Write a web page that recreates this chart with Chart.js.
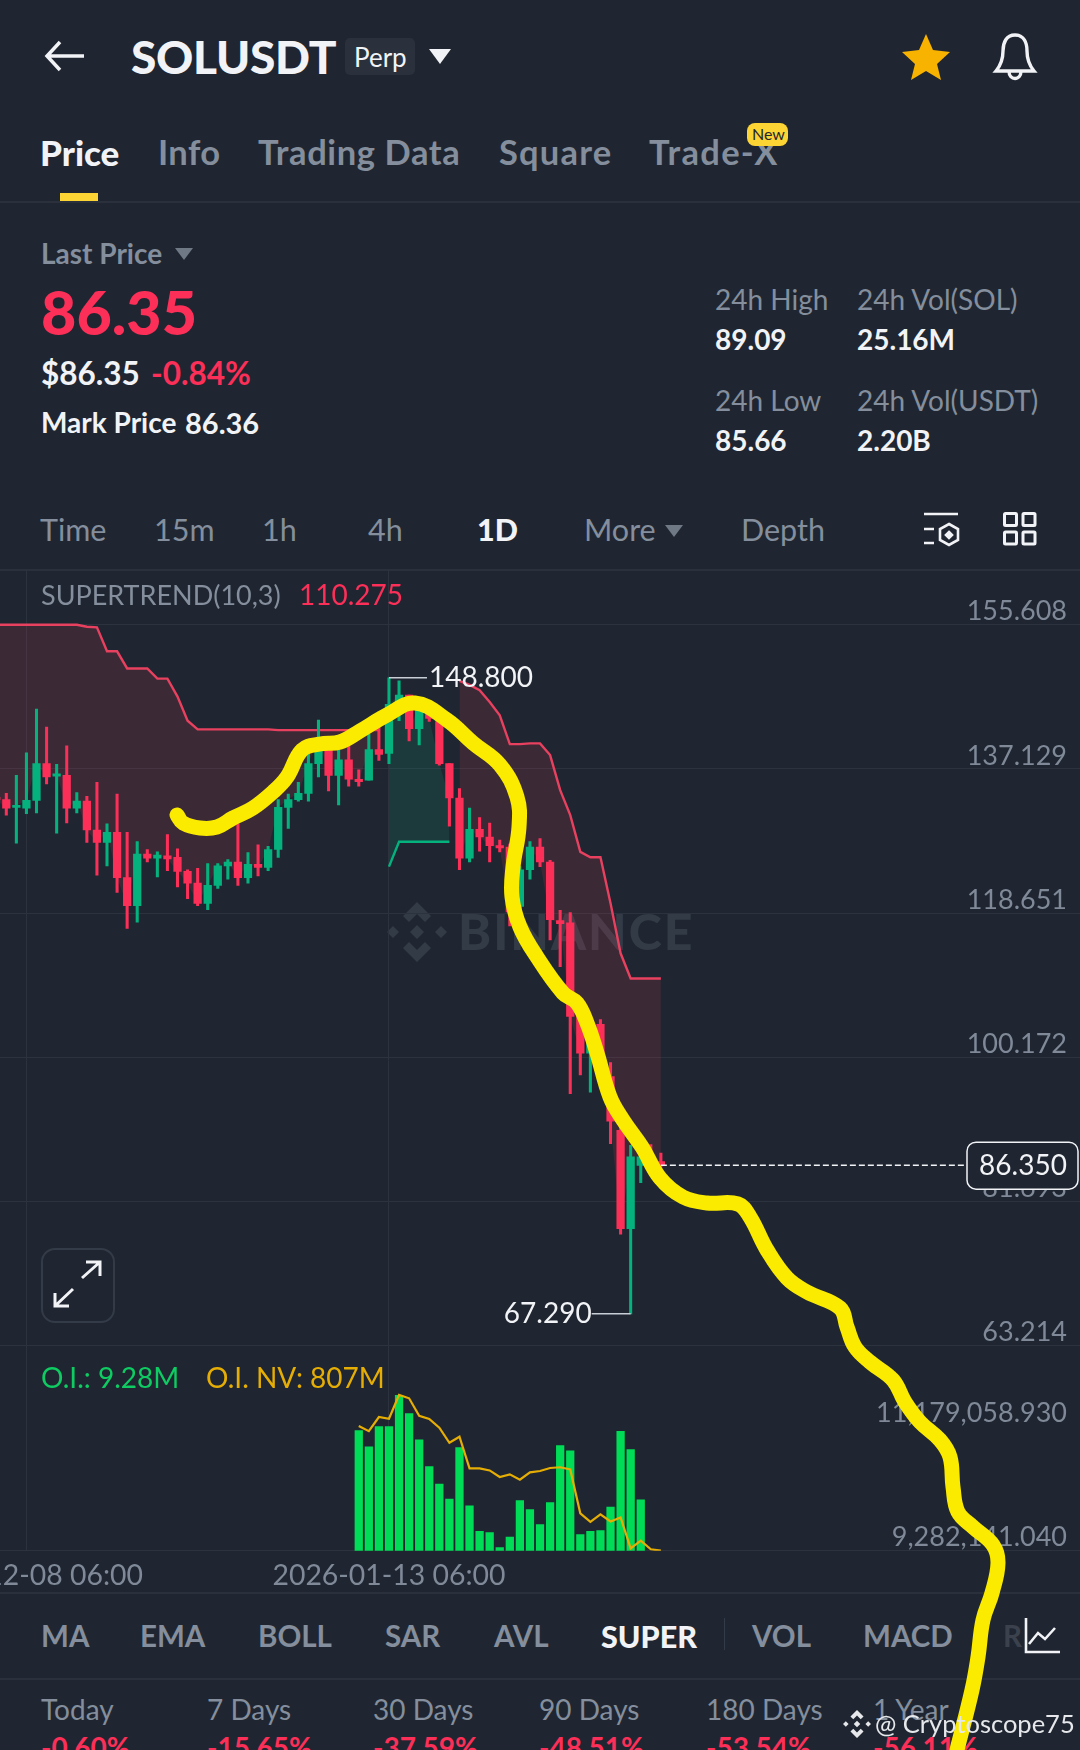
<!DOCTYPE html>
<html>
<head>
<meta charset="utf-8">
<title>SOLUSDT Perp</title>
<script src="https://cdn.jsdelivr.net/npm/chart.js@4"></script>
<style>
  html, body { margin: 0; padding: 0; background: #1f2631; }
  #page { position: relative; width: 1080px; height: 1750px; overflow: hidden; background: #1f2631; font-family: Lato, sans-serif; }
  .t { position: absolute; transform: translateY(-50%); white-space: nowrap; line-height: 1; color: #848e9c; font-size: 30px; font-weight: 700; }
  .w { color: #f1f3f6; }
  .r { color: #fb2f58; }
  .s { font-size: 28px; font-weight: 400; }
  .hr { position: absolute; left: 0; width: 1080px; height: 2px; background: #2a313d; }
  svg.i { position: absolute; overflow: visible; }
  canvas { position: absolute; left: 0; display: block; }
  #chart { top: 570px; z-index: 2; }
  #pen { top: 0; z-index: 3; }
  #mark { position: absolute; z-index: 4; left: 0; top: 0; }
</style>
</head>
<body>
<div id="page">
  <!-- header -->
  <svg class="i" style="left:44px;top:40px" width="40" height="32" fill="none" stroke="#f1f3f6" stroke-width="3.5"><path d="M40 16H3M16 2L3 16l13 14"/></svg>
  <span class="t w" style="left:131px;top:57px;font-size:46px;font-weight:900;letter-spacing:-.3px">SOLUSDT</span>
  <div style="position:absolute;left:345px;top:38px;width:70px;height:37px;border-radius:5px;background:#2a303c"></div>
  <span class="t w" style="left:354px;top:57px;font-size:26px;font-weight:400">Perp</span>
  <svg class="i" style="left:429px;top:49px" width="22" height="15"><path d="M0 0h22L11 15z" fill="#f1f3f6"/></svg>
  <svg class="i" style="left:902px;top:34px" width="48" height="46"><path d="M24 0l7 16 17 2-13 12 4 16-15-9-15 9 4-16L0 18l17-2z" fill="#f8b200"/></svg>
  <svg class="i" style="left:994px;top:33px" width="42" height="48" fill="none" stroke="#f1f3f6" stroke-width="3.4"><path d="M21 2c9 0 12 8 12 16 0 9 2 14 7 20H2c5-6 7-11 7-20C9 10 12 2 21 2z"/><path d="M15 38c0 10 12 10 12 0"/></svg>

  <!-- tabs -->
  <span class="t w" style="left:40px;top:152px;font-size:35px;font-weight:900">Price</span>
  <span class="t" style="left:158px;top:152px;font-size:34.5px;letter-spacing:.4px">Info</span>
  <span class="t" style="left:258px;top:152px;font-size:34.5px;letter-spacing:.6px">Trading Data</span>
  <span class="t" style="left:499px;top:152px;font-size:34.5px;letter-spacing:1.2px">Square</span>
  <span class="t" style="left:649px;top:152px;font-size:34.5px;letter-spacing:1.3px">Trade-X</span>
  <div style="position:absolute;left:747px;top:123px;width:41px;height:23px;border-radius:8px;background:#fcd535"></div>
  <span class="t" style="left:752px;top:134px;font-size:16px;color:#1f2631;font-weight:400">New</span>
  <div style="position:absolute;left:60px;top:193px;width:38px;height:8px;background:#fcd535"></div>
  <div class="hr" style="top:201px"></div>

  <!-- price block -->
  <span class="t" style="left:41px;top:253px;font-size:28px">Last Price</span>
  <svg class="i" style="left:175px;top:248px" width="18" height="12"><path d="M0 0h18L9 12z" fill="#6f7885"/></svg>
  <span class="t r" style="left:41px;top:311px;font-size:61px;font-weight:900">86.35</span>
  <span class="t w" style="left:41px;top:374px;font-size:31.5px">$86.35</span>
  <span class="t r" style="left:151px;top:374px;font-size:31.5px">-0.84%</span>
  <span class="t w" style="left:41px;top:422px;font-size:28px">Mark Price</span>
  <span class="t w" style="left:185px;top:422px;font-size:29px">86.36</span>

  <span class="t s" style="left:715px;top:299px">24h High</span>
  <span class="t s" style="left:857px;top:299px">24h Vol(SOL)</span>
  <span class="t s w" style="left:715px;top:339px;font-weight:700">89.09</span>
  <span class="t s w" style="left:857px;top:339px;font-weight:700">25.16M</span>
  <span class="t s" style="left:715px;top:400px">24h Low</span>
  <span class="t s" style="left:857px;top:400px">24h Vol(USDT)</span>
  <span class="t s w" style="left:715px;top:440px;font-weight:700">85.66</span>
  <span class="t s w" style="left:857px;top:440px;font-weight:700">2.20B</span>

  <!-- intervals -->
  <span class="t" style="left:40px;top:529px;font-size:30.5px;font-weight:400">Time</span>
  <span class="t" style="left:154px;top:529px;font-size:30.5px;font-weight:400">15m</span>
  <span class="t" style="left:262px;top:529px;font-size:30.5px;font-weight:400">1h</span>
  <span class="t" style="left:368px;top:529px;font-size:30.5px;font-weight:400">4h</span>
  <span class="t w" style="left:477px;top:529px;font-size:30.5px;font-weight:900">1D</span>
  <span class="t" style="left:584px;top:529px;font-size:30.5px;font-weight:400">More</span>
  <svg class="i" style="left:665px;top:525px" width="18" height="12"><path d="M0 0h18L9 12z" fill="#6f7885"/></svg>
  <span class="t" style="left:741px;top:529px;font-size:30.5px;font-weight:400">Depth</span>
  <svg class="i" style="left:923px;top:513px" width="36" height="36" fill="none" stroke="#f1f3f6" stroke-width="2.6"><path d="M1 1h34M1 16h10M1 30h10M26 11l9 5v11l-9 5-9-5V16z"/><path d="M26 19l3 3-3 3-3-3z" fill="#f1f3f6"/></svg>
  <svg class="i" style="left:1003px;top:512px" width="34" height="35" fill="none" stroke="#f1f3f6" stroke-width="3"><rect x="1.5" y="1.5" width="12" height="12" rx="1"/><rect x="20" y="1.5" width="12" height="12" rx="1"/><rect x="1.5" y="20" width="12" height="12" rx="1"/><rect x="20" y="20" width="12" height="12" rx="1"/></svg>
  <div class="hr" style="top:569px"></div>

  <!-- chart overlays -->
  <span class="t s" style="left:41px;top:594px;z-index:5;font-size:27px">SUPERTREND(10,3)</span>
  <span class="t s r" style="left:299px;top:594px;z-index:5">110.275</span>
  <svg class="i" style="left:387px;top:902px" width="60" height="60" viewBox="-30 -30 60 60" fill="#333b47"><path d="M0-30l14 14-6 6-8-8-8 8-6-6zM0 30l14-14-6-6-8 8-8-8-6 6zM-30 0l6-6 6 6-6 6zM30 0l-6-6-6 6 6 6zM0-7l7 7-7 7-7-7z"/></svg>
  <span class="t" style="left:458px;top:931px;font-size:50px;font-weight:900;color:#333b47;letter-spacing:2px">BINANCE</span>
  <div style="position:absolute;left:41px;top:1248px;width:70px;height:71px;border:2px solid #343b48;border-radius:14px;z-index:5"></div>
  <svg class="i" style="left:52px;top:1260px;z-index:5" width="50" height="50" fill="none" stroke="#f1f3f6" stroke-width="3"><path d="M30 18L48 2M34 2h14v14M21 29L3 46M3 33v13h14"/></svg>
  <span class="t s" style="left:41px;top:1377px;color:#0ecb62;z-index:5">O.I.: 9.28M</span>
  <span class="t s" style="left:206px;top:1377px;color:#e6ae05;z-index:5">O.I. NV: 807M</span>

  <!-- indicators -->
  <div class="hr" style="top:1592px"></div>
  <span class="t" style="left:41px;top:1636px;font-size:29.5px">MA</span>
  <span class="t" style="left:140px;top:1636px;font-size:29.5px">EMA</span>
  <span class="t" style="left:258px;top:1636px;font-size:29.5px">BOLL</span>
  <span class="t" style="left:385px;top:1636px;font-size:29.5px">SAR</span>
  <span class="t" style="left:494px;top:1636px;font-size:29.5px">AVL</span>
  <span class="t w" style="left:601px;top:1636px;font-size:30.5px;font-weight:900">SUPER</span>
  <div style="position:absolute;left:724px;top:1618px;width:1px;height:32px;background:#343b48"></div>
  <span class="t" style="left:752px;top:1636px;font-size:29.5px">VOL</span>
  <span class="t" style="left:863px;top:1636px;font-size:29.5px">MACD</span>
  <span class="t" style="left:1003px;top:1636px;font-size:29.5px;color:#3b424e">R</span>
  <svg class="i" style="left:1024px;top:1618px" width="36" height="36" fill="none" stroke="#f1f3f6" stroke-width="2.6"><path d="M2 0v34h34M5 26l9-11 7 6 10-11"/></svg>
  <div class="hr" style="top:1678px"></div>

  <!-- period returns -->
  <span class="t s" style="left:41px;top:1709px">Today</span>
  <span class="t s" style="left:207px;top:1709px">7 Days</span>
  <span class="t s" style="left:373px;top:1709px">30 Days</span>
  <span class="t s" style="left:539px;top:1709px">90 Days</span>
  <span class="t s" style="left:706px;top:1709px">180 Days</span>
  <span class="t s" style="left:873px;top:1709px">1 Year</span>
  <span class="t s r" style="left:41px;top:1747px;font-weight:700">-0.60%</span>
  <span class="t s r" style="left:207px;top:1747px;font-weight:700">-15.65%</span>
  <span class="t s r" style="left:373px;top:1747px;font-weight:700">-37.59%</span>
  <span class="t s r" style="left:539px;top:1747px;font-weight:700">-48.51%</span>
  <span class="t s r" style="left:706px;top:1747px;font-weight:700">-53.54%</span>
  <span class="t s r" style="left:873px;top:1747px;font-weight:700">-56.11%</span>

  <canvas id="chart" width="1080" height="1050"></canvas>
  <canvas id="pen" width="1080" height="1750"></canvas>

  <!-- watermark on top of everything -->
  <div id="mark">
    <svg class="i" style="left:843px;top:1710px" width="28" height="28" viewBox="-30 -30 60 60" fill="#e6e8eb"><path d="M0-30l14 14-6 6-8-8-8 8-6-6zM0 30l14-14-6-6-8 8-8-8-6 6zM-30 0l6-6 6 6-6 6zM30 0l-6-6-6 6 6 6zM0-7l7 7-7 7-7-7z"/></svg>
    <span class="t" style="left:875px;top:1724px;font-size:25.5px;font-weight:400;color:#e6e8eb">@ Cryptoscope75</span>
  </div>
</div>

<script>
// ── Candles: one entry per day, 2025-12-05 first, 2026-02-09 last ──
const opens = [133.5,
  133.2,132.2,132.1,133.1,137.8,136.2,136.3,132.1,133.0,129.3,
  127.7,129.0,123.2,119.6,126.2,125.7,126.0,125.8,124.0,122.5,
  119.9,122.2,124.7,125.2,123.2,124.9,124.5,126.8,132.2,133.2,
  134.0,137.8,140.8,136.3,138.3,135.8,135.7,139.6,139.1,145.4,
  146.6,142.3,144.2,143.2,137.8,133.4,125.7,129.4,128.4,127.3,
  127.1,119.5,124.2,127.1,125.2,117.7,117.4,105.4,100.7,104.4,
  97.7,90.8,78.2,86.3,87.4,86.8];
const closes = [133.2,
  132.1,132.4,133.1,137.8,136.1,136.5,132.1,133.0,129.3,127.7,
  129.0,123.2,119.6,126.2,125.7,126.1,125.6,124.0,122.5,119.9,
  122.2,124.7,125.2,123.2,124.9,124.5,126.8,132.2,133.2,134.0,
  137.8,141.0,136.3,138.3,135.8,135.5,139.6,139.0,145.4,146.6,
  142.3,145.1,143.6,137.8,133.4,125.7,129.4,128.4,127.3,127.0,
  118.8,124.2,127.1,125.2,117.8,117.3,105.4,100.7,104.4,99.4,
  92.0,78.2,87.4,87.4,86.8,86.35];
const highs = [137.0,
  134.0,136.3,139.2,144.8,142.5,137.7,140.1,134.1,133.6,135.4,
  130.1,133.9,129.0,127.8,126.8,126.5,128.7,126.9,124.2,124.4,
  125.0,125.0,125.5,130.1,126.4,127.4,127.2,133.2,133.9,135.4,
  139.5,143.4,141.3,140.0,141.0,137.0,141.6,144.4,148.8,148.4,
  146.6,145.5,145.5,144.0,137.8,134.6,132.1,130.9,130.2,128.0,
  127.5,124.6,127.8,128.2,125.4,119.0,118.7,105.6,104.7,105.0,
  99.5,92.1,88.9,87.8,89.0,87.9];
const lows = [132.5,
  131.2,127.6,131.4,131.5,135.2,128.9,130.2,131.5,127.7,123.5,
  124.7,121.3,116.7,117.5,125.2,123.3,124.1,122.0,120.5,119.6,
  119.1,121.8,123.0,122.2,122.5,123.4,124.1,125.8,129.5,133.0,
  133.0,136.1,134.3,132.5,134.9,134.9,135.7,138.2,137.8,143.3,
  140.7,140.2,143.2,137.6,129.8,124.2,125.2,126.6,125.2,126.5,
  117.0,118.6,123.0,124.6,115.2,111.8,95.5,97.9,95.7,98.0,
  89.1,77.5,67.29,84.1,85.7,86.1];

// ── Supertrend, split into its down and up runs ──
const trendDown = [155.6,
  155.6,155.6,155.6,155.6,155.6,155.6,155.6,155.6,155.35,155.27,
  152.2,152.2,150.0,150.0,150.0,148.7,148.7,146.4,143.3,142.2,
  142.2,142.2,142.2,142.2,142.2,142.2,142.2,142.1,142.1,142.1,
  142.1,142.1,142.1,142.1,142.1,142.1,142.1,142.1,null,null,
  null,null,null,null,null,148.4,147.9,147.2,145.7,144.0,
  140.3,140.3,140.4,140.4,138.9,134.4,131.2,126.5,125.8,125.8,
  119.9,113.5,110.275,110.275,110.275,110.275];
const trendUp = [null,
  null,null,null,null,null,null,null,null,null,null,
  null,null,null,null,null,null,null,null,null,null,
  null,null,null,null,null,null,null,null,null,null,
  null,null,null,null,null,null,null,null,124.6,127.8,
  127.8,127.8,127.8,127.8,127.8];

// ── Open interest, from the 36th day on ──
const oiStart = 36;
const oiBars = [11120000,10870000,11180000,11180000,11660000,11380000,10980000,10570000,10300000,10070000,
  10860000,9970000,9580000,9560000,9330000,9490000,10050000,9910000,9680000,10020000,
  10890000,10810000,9530000,9580000,9590000,9950000,11110000,10830000,10060000];
const oiNotional = [1514,1485,1565,1555,1690,1671,1572,1554,1504,1419,
  1453,1274,1274,1262,1225,1240,1210,1251,1259,1276,
  1280,1268,1019,971,1013,973,996,820,864,815,807];

// ── Axis ticks ──
const priceTicks = [155.608, 137.129, 118.651, 100.172, 81.693, 63.214];
const oiTicks = [11179058.93, 9282141.04];
const dateTicks = [3, 39];
const dateLabels = ['2025-12-08 06:00', '2026-01-13 06:00'];

// ── Price markers ──
const highMark = { day: 39, value: 148.8, label: '148.800' };
const lowMark = { day: 63, value: 67.29, label: '67.290' };
const lastPrice = 86.35;

// ── Hand drawn stroke on the screenshot, in page pixels ──
const penX = [177,183,200,217,233,253,273,287,302,320,340,360,387,415,447,473,500,517,519,513,512,520,537,563,577,587,597,610,623,642,660,683,707,738,750,767,787,807,840,847,855,870,893,905,920,940,950,953,958,973,993,998,992,983,978,972,957];
const penY = [815,823,828,827,818,808,792,777,750,744,742,731,715,703,720,743,765,797,827,867,897,927,957,993,1003,1023,1053,1097,1120,1147,1178,1197,1203,1204,1217,1250,1278,1292,1308,1327,1347,1362,1380,1402,1422,1440,1457,1487,1512,1527,1545,1563,1593,1620,1657,1690,1750];

const colors = {
  up: '#05b27e',
  down: '#fb2f58',
  trendDown: '#e8405f',
  trendUp: '#05b27e',
  fillDown: 'rgba(255, 60, 90, 0.13)',
  fillUp: 'rgba(5, 190, 140, 0.13)',
  oiBar: '#00dc55',
  oiLine: '#e6ae05',
  grid: '#2c333f',
  tick: '#7f8998',
  text: '#f1f3f6',
};

const tickFont = { family: 'Lato, sans-serif', size: 27 };
const dateFont = { family: 'Lato, sans-serif', size: 28.4 };
const days = opens.map((_, i) => i);
const isUp = (i) => closes[i] >= opens[i];

// Draws the high/low call-outs and the last price flag
const priceMarks = {
  id: 'priceMarks',
  afterDraw(chart) {
    const { ctx, scales: { x, y } } = chart;
    ctx.save();
    ctx.font = '28px Lato, sans-serif';
    ctx.textBaseline = 'middle';
    ctx.strokeStyle = '#c9ced6';
    ctx.lineWidth = 1.5;
    ctx.fillStyle = colors.text;

    const hx = x.getPixelForValue(highMark.day);
    const hy = y.getPixelForValue(highMark.value);
    ctx.beginPath(); ctx.moveTo(hx, hy); ctx.lineTo(hx + 38, hy); ctx.stroke();
    ctx.textAlign = 'left';
    ctx.fillText(highMark.label, hx + 40, hy);

    const lx = x.getPixelForValue(lowMark.day);
    const ly = y.getPixelForValue(lowMark.value);
    ctx.beginPath(); ctx.moveTo(lx, ly); ctx.lineTo(lx - 39, ly); ctx.stroke();
    ctx.textAlign = 'right';
    ctx.fillText(lowMark.label, lx - 39, ly);

    const py = y.getPixelForValue(lastPrice);
    ctx.setLineDash([6, 3]);
    ctx.strokeStyle = colors.text;
    ctx.beginPath(); ctx.moveTo(x.getPixelForValue(days.length - 1), py); ctx.lineTo(966, py); ctx.stroke();
    ctx.setLineDash([]);
    ctx.beginPath(); ctx.roundRect(967, py - 23, 111, 47, 9);
    ctx.fillStyle = '#1f2631'; ctx.fill(); ctx.stroke();
    ctx.fillStyle = colors.text;
    ctx.textAlign = 'center';
    ctx.fillText(lastPrice.toFixed(3), 1023, py + 1);
    ctx.restore();
  },
};

new Chart(document.getElementById('chart'), {
  data: {
    datasets: [
      {
        type: 'bar', label: 'Body', order: 1, grouped: false, barThickness: 7.6, minBarLength: 2,
        data: days.map((i) => ({ x: i, y: [opens[i], closes[i]] })),
        backgroundColor: days.map((i) => (isUp(i) ? colors.up : colors.down)),
      },
      {
        type: 'bar', label: 'Wick', order: 2, grouped: false, barThickness: 2.4,
        data: days.map((i) => ({ x: i, y: [lows[i], highs[i]] })),
        backgroundColor: days.map((i) => (isUp(i) ? colors.up : colors.down)),
      },
      {
        type: 'line', label: 'Supertrend down', order: 3, borderWidth: 2.4, pointRadius: 0,
        borderColor: colors.trendDown, spanGaps: false,
        data: trendDown.map((v, i) => ({ x: i, y: v })),
        fill: { target: 4, above: colors.fillDown, below: colors.fillDown },
      },
      {
        type: 'line', label: 'Supertrend up', order: 3, borderWidth: 2.4, pointRadius: 0,
        borderColor: colors.trendUp, spanGaps: false,
        data: trendUp.map((v, i) => ({ x: i, y: v })),
        fill: { target: 4, above: colors.fillUp, below: colors.fillUp },
      },
      {
        type: 'line', label: 'Close', order: 4, borderWidth: 0, pointRadius: 0, borderColor: 'transparent',
        data: closes.map((v, i) => ({ x: i, y: v })),
      },
      {
        type: 'bar', label: 'O.I.', order: 2, grouped: false, barThickness: 7.6, yAxisID: 'yOI',
        backgroundColor: colors.oiBar,
        data: oiBars.map((v, i) => ({ x: oiStart + i, y: v })),
      },
      {
        type: 'line', label: 'O.I. NV', order: 1, borderWidth: 2.2, pointRadius: 0, yAxisID: 'yNV',
        borderColor: colors.oiLine,
        data: oiNotional.map((v, i) => ({ x: oiStart + i, y: v })),
      },
    ],
  },
  options: {
    responsive: false,
    animation: false,
    events: [],
    layout: { padding: 0 },
    plugins: { legend: { display: false }, tooltip: { enabled: false } },
    scales: {
      x: {
        type: 'linear', min: 0.374, max: 107.62, offset: false,
        border: { display: false },
        grid: { color: colors.grid, drawTicks: false, offset: false },
        afterBuildTicks: (axis) => { axis.ticks = dateTicks.map((v) => ({ value: v })); },
        afterFit: (axis) => { axis.paddingLeft = 0; axis.paddingRight = 0; axis.height = 69.3; },
        ticks: {
          autoSkip: false, maxRotation: 0, padding: 8, color: colors.tick, font: dateFont,
          callback: (v) => dateLabels[dateTicks.indexOf(v)],
        },
      },
      y: {
        position: 'right', min: 36.94, max: 162.618,
        border: { display: false },
        grid: { color: colors.grid, drawTicks: false },
        afterBuildTicks: (axis) => { axis.ticks = priceTicks.map((v) => ({ value: v })); },
        afterFit: (axis) => { axis.width = 0; axis.paddingTop = 0; axis.paddingBottom = 0; },
        ticks: {
          mirror: true, padding: -13, labelOffset: -13, autoSkip: false, color: colors.tick, font: tickFont,
          callback: (v) => v.toFixed(3),
        },
      },
      yOI: {
        position: 'right', min: 9282141.04, max: 24285000,
        border: { display: false },
        grid: {
          drawTicks: false,
          color: (c) => (c.tick && c.tick.value === oiTicks[1] ? colors.grid : 'transparent'),
        },
        afterBuildTicks: (axis) => { axis.ticks = oiTicks.map((v) => ({ value: v })); },
        afterFit: (axis) => { axis.width = 0; axis.paddingTop = 0; axis.paddingBottom = 0; },
        ticks: {
          mirror: true, padding: -13, labelOffset: -13, autoSkip: false, color: colors.tick, font: tickFont,
          callback: (v) => v.toLocaleString('en-US', { minimumFractionDigits: 3, maximumFractionDigits: 3 }),
        },
      },
      yNV: { display: false, position: 'right', min: 807, max: 6367 },
    },
  },
  plugins: [priceMarks],
});

// Yellow marker stroke lying on top of the whole screen
new Chart(document.getElementById('pen'), {
  type: 'line',
  data: {
    datasets: [{
      label: 'Marker',
      data: penX.map((v, i) => ({ x: v, y: penY[i] })),
      borderColor: '#fbeb00',
      borderWidth: 15,
      borderCapStyle: 'round',
      borderJoinStyle: 'round',
      tension: 0.4,
      pointRadius: 0,
      clip: false,
    }],
  },
  options: {
    responsive: false,
    animation: false,
    events: [],
    layout: { padding: 0 },
    plugins: { legend: { display: false }, tooltip: { enabled: false } },
    scales: {
      x: { type: 'linear', min: 0, max: 1080, display: false },
      y: { type: 'linear', min: 0, max: 1750, reverse: true, display: false },
    },
  },
});
</script>
</body>
</html>
